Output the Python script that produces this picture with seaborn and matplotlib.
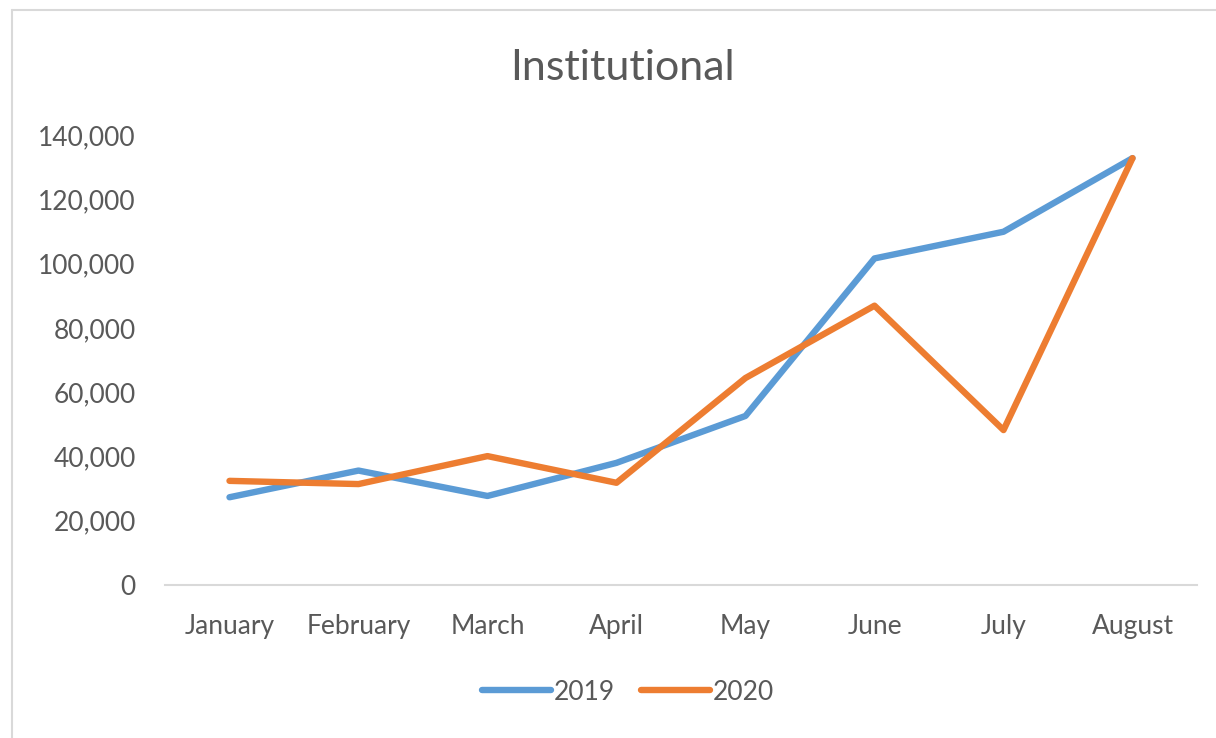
import numpy as np, pandas as pd
import matplotlib; matplotlib.use("Agg")
import matplotlib.pyplot as plt
import seaborn as sns
from matplotlib.lines import Line2D
from matplotlib.ticker import FuncFormatter

sns.set_style("white")
plt.rcParams["font.family"] = ["Lato", "DejaVu Sans"]

# ---------- data ----------
months = ["January", "February", "March", "April", "May", "June", "July", "August"]
vals_2019 = [27300, 35600, 27700, 38000, 52600, 101600, 109900, 132800]
vals_2020 = [32400, 31400, 40100, 31800, 64400, 86900, 48200, 132800]
years = ["2019", "2020"]
colors = {"2019": "#5B9BD5", "2020": "#ED7D31"}

df = pd.DataFrame({
    "month": months * 2,
    "x": list(range(len(months))) * 2,
    "value": vals_2019 + vals_2020,
    "year": ["2019"] * len(months) + ["2020"] * len(months),
})

GREY = "#595959"
fig = plt.figure(figsize=(12.16, 7.38), dpi=100)
ax = fig.add_axes([165 / 1216, 1 - 585 / 738, (1197 - 165) / 1216, (585 - 135) / 738])

sns.lineplot(data=df, x="x", y="value", hue="year", palette=colors, linewidth=4.6,
             solid_capstyle="round", legend=False, ax=ax, sort=False)

ax.set_xlim(-0.5, len(months) - 0.5)
ax.set_ylim(0, 140000)
ax.set_yticks(np.arange(0, 140001, 20000))
ax.yaxis.set_major_formatter(FuncFormatter(lambda v, p: f"{int(v):,}"))
ax.set_xticks(range(len(months)))
ax.set_xticklabels(months)
ax.set_xlabel(""); ax.set_ylabel("")
ax.tick_params(axis="both", length=0, labelsize=19, colors=GREY)
ax.tick_params(axis="x", pad=21)
ax.tick_params(axis="y", pad=21)
for s in ["top", "right", "left"]:
    ax.spines[s].set_visible(False)
ax.spines["bottom"].set_color("#d9d9d9")
ax.spines["bottom"].set_linewidth(1.5)

fig.text(622 / 1216, 1 - 68 / 738, "Institutional", ha="center", va="center",
         fontsize=31, color=GREY)

handles = [Line2D([0], [0], color=colors[y], lw=4.6, solid_capstyle="round") for y in years]
fig.legend(handles, years, loc="center", bbox_to_anchor=(628 / 1216, 1 - 692 / 738),
           ncol=2, frameon=False, fontsize=19, handlelength=2.6, handletextpad=0.1,
           columnspacing=1.0, labelcolor=GREY)

# chart-area border (left and top edges visible in the reference)
fig.add_artist(Line2D([12 / 1216, 12 / 1216], [0, 1 - 10 / 738], color="#d9d9d9", lw=1.5))
fig.add_artist(Line2D([12 / 1216, 1], [1 - 10 / 738, 1 - 10 / 738], color="#d9d9d9", lw=1.5))

fig.savefig("out.png", dpi=100, facecolor="white")
